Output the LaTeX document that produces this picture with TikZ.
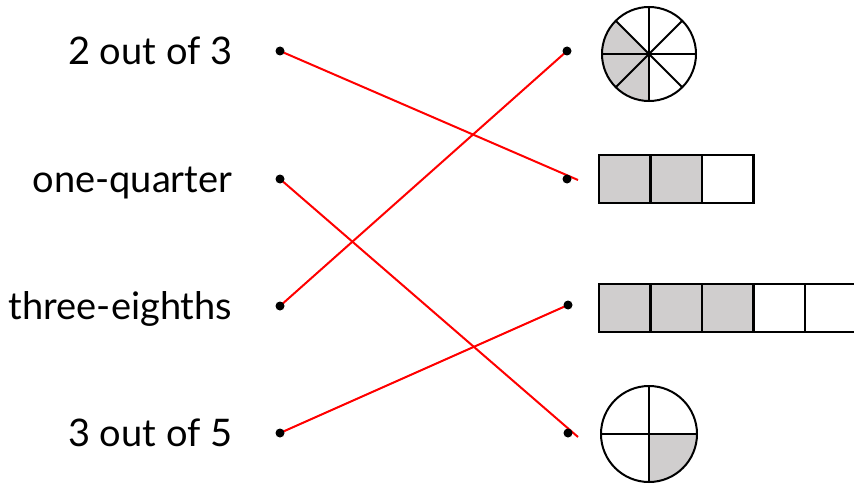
\documentclass[tikz,border=0pt]{standalone}
\usepackage{fontspec}
\setmainfont{Lato}
\usetikzlibrary{positioning,backgrounds}
\definecolor{cellgray}{RGB}{208,206,206}
\begin{document}
\begin{tikzpicture}[x=1pt, y=1pt, node distance=0pt, thick]
    % Styles
    \tikzstyle{dot} = [circle, fill=black, inner sep=0pt, minimum size=9pt]
    \tikzstyle{fraclabel} = [inner sep=0pt, text height=27pt, text depth=0pt, font=\fontsize{38}{42}\selectfont]
    \tikzstyle{cell} = [draw, line width=2.5pt, rectangle, outer sep=0pt, minimum width=51.5pt, minimum height=48pt, inner sep=0pt]
    \tikzstyle{filled} = [fill=cellgray]
    \tikzstyle{wire} = [draw=red, line width=2pt]
    \tikzstyle{pie} = [line width=2pt]

    \useasboundingbox (0,0) rectangle (854,-487);

    % Dots
    \node [dot] (l1) at (280,-51) {};
    \node [dot] (l2) at (280,-179) {};
    \node [dot] (l3) at (280,-306) {};
    \node [dot] (l4) at (280,-433) {};
    \node [dot] (r1) at (567,-51) {};
    \node [dot] (r2) at (567,-179) {};
    \node [dot] (r3) at (568,-305) {};
    \node [dot] (r4) at (568,-433) {};
    \coordinate (e2) at (578,-180);
    \coordinate (e4) at (578,-437);

    % Labels
    \node [fraclabel, left=42.5pt of l1] (twothirds) {2 out of 3};
    \node [fraclabel, left=42.5pt of l2] (quarter) {one-quarter};
    \node [fraclabel, left=42.5pt of l3] (eighths) {three-eighths};
    \node [fraclabel, left=42.5pt of l4] (threefifths) {3 out of 5};

    % Pie in eighths
    \coordinate (p1) at (649,-54);
    \fill [cellgray] (p1) -- ++(135:47) arc (135:270:47) -- cycle;
    \foreach \a in {0,45,...,315}
        \draw [pie] (p1) -- ++(\a:47);
    \draw [pie] (p1) circle (47);

    % Pie in quarters
    \coordinate (p2) at (649,-434);
    \fill [cellgray] (p2) -- ++(270:48) arc (270:360:48) -- cycle;
    \foreach \a in {0,90,180,270}
        \draw [pie] (p2) -- ++(\a:48);
    \draw [pie] (p2) circle (48);

    % Bar of thirds
    \node [cell, filled] (a1) at (624.75,-179) {};
    \node [cell, filled, right=of a1] (a2) {};
    \node [cell, right=of a2] (a3) {};

    % Bar of fifths
    \node [cell, filled] (b1) at (624.75,-308) {};
    \node [cell, filled, right=of b1] (b2) {};
    \node [cell, filled, right=of b2] (b3) {};
    \node [cell, right=of b3] (b4) {};
    \node [cell, right=of b4] (b5) {};

    % Connections
    \begin{scope}[on background layer]
        \draw [wire] (l1.center) -- (e2);
        \draw [wire] (l2.center) -- (e4);
        \draw [wire] (l3.center) -- (r1.center);
        \draw [wire] (l4.center) -- (r3.center);
    \end{scope}
\end{tikzpicture}
\end{document}
